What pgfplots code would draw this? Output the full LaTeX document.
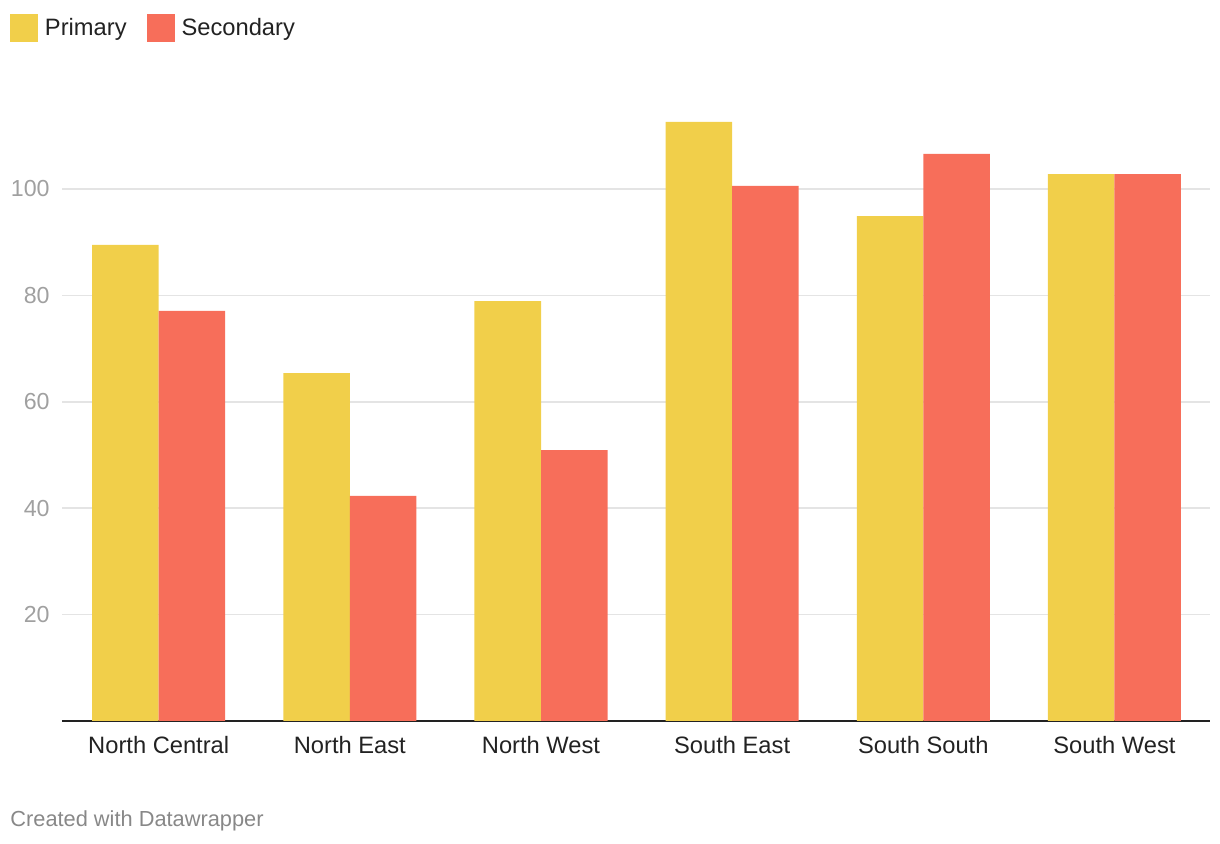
\documentclass[border=0pt]{standalone}
\usepackage{fontspec}
\setmainfont{Liberation Sans}
\usepackage{pgfplots}
\pgfplotsset{compat=1.18}
\definecolor{prim}{RGB}{241,207,74}
\definecolor{seco}{RGB}{247,110,90}
\definecolor{gridc}{RGB}{228,228,228}
\definecolor{tickc}{RGB}{160,160,160}
\definecolor{txt}{RGB}{34,34,34}
\definecolor{foot}{RGB}{136,136,136}
\begin{document}
\begin{tikzpicture}
\useasboundingbox (-31pt,-61.5pt) rectangle (579pt,360.5pt);
\begin{axis}[
  at={(0,0)}, anchor=south west,
  scale only axis, width=574pt, height=319.2pt,
  xmin=-0.506, xmax=5.5, ymin=0, ymax=120,
  clip=false,
  /pgf/number format/assume math mode=true,
  axis x line=bottom, axis y line=left,
  x axis line style={-, draw=txt, line width=1pt},
  y axis line style={draw=none},
  major tick length=0pt,
  xtick=data,
  xticklabels={North Central, North East, North West, South East, South South, South West},
  ytick={20,40,60,80,100},
  ymajorgrids,
  grid style={gridc, line width=0.75pt},
  xticklabel style={inner sep=0pt, anchor=north, yshift=-7.5pt, font=\fontsize{11.85}{14}\selectfont, text=txt},
  yticklabel style={inner sep=0pt, anchor=east, xshift=-6pt, font=\fontsize{11.6}{14}\selectfont, text=tickc},
  legend columns=2,
  legend style={at={(rel axis cs:-0.0453,1.1075)}, anchor=north west, draw=none, fill=none,
    inner sep=0pt, outer sep=0pt, font=\fontsize{11.85}{14}\selectfont, text=txt,
    nodes={inner sep=0pt},
    /tikz/column 1/.style={column sep=3.5pt},
    /tikz/column 2/.style={column sep=10pt},
    /tikz/column 3/.style={column sep=3.5pt}},
  legend image code/.code={\fill[#1] (0pt,-7pt) rectangle (14pt,7pt);},
]
\addplot[ybar, bar width=0.348, bar shift=-0.174, fill=prim, draw=none] coordinates {
  (0,89.5) (1,65.4) (2,78.9) (3,112.6) (4,94.9) (5,102.8)};
\addlegendentry{Primary}
\addplot[ybar, bar width=0.348, bar shift=0.174, fill=seco, draw=none] coordinates {
  (0,77.1) (1,42.3) (2,50.9) (3,100.6) (4,106.6) (5,102.8)};
\addlegendentry{Secondary}
\node[anchor=base west, inner sep=0pt, font=\fontsize{10.9}{13}\selectfont, text=foot]
  at (rel axis cs:-0.0453,-0.1645) {Created with Datawrapper};
\end{axis}
\end{tikzpicture}
\end{document}
